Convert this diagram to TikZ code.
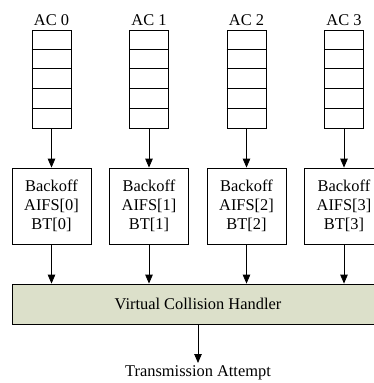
\documentclass[tikz,border=0pt]{standalone}
\usepackage{fontspec}
\setmainfont{Liberation Serif}
\usetikzlibrary{arrows.meta,positioning}
\definecolor{handlerfill}{RGB}{220,224,202}
\begin{document}
\begin{tikzpicture}[x=1pt, y=-1pt, >={Triangle[length=9pt,width=7.5pt]}, line width=0.8pt,
        font=\fontsize{16.4}{19}\selectfont,
        queue/.style={draw, minimum width=39pt, minimum height=98pt, inner sep=0pt},
        backoff/.style={draw, minimum width=79pt, minimum height=76pt, align=center, inner sep=0pt},
        handler/.style={draw, fill=handlerfill, minimum width=372pt, minimum height=40pt}]
        \useasboundingbox (0,0) rectangle (374,383);
        \clip (0,0) rectangle (374,383);

        % Handler and output
        \node[handler] (vch) at (198,304) {Virtual Collision Handler};
        \node[anchor=north, inner sep=2pt] (tx) at (198,363) {Transmission Attempt};

        % Queues and backoff entities
        \foreach \i/\x in {0/51.5, 1/149, 2/246.5, 3/344} {
            \node[queue] (q\i) at (\x,79) {};
            \foreach \k in {1,...,4}
                \draw (q\i.north west) ++(0,19.6*\k) -- ++(39,0);
            \node[above=0pt of q\i] (ac\i) {AC \i};
            \node[backoff] (b\i) at (\x,206) {Backoff\\AIFS[\i]\\BT[\i]};
            \draw[->] (q\i) -- (b\i);
            \draw[->] (b\i) -- (b\i |- vch.north);
        }

        % Arrows
        \draw[->] (vch) -- (tx);
    \end{tikzpicture}
\end{document}
